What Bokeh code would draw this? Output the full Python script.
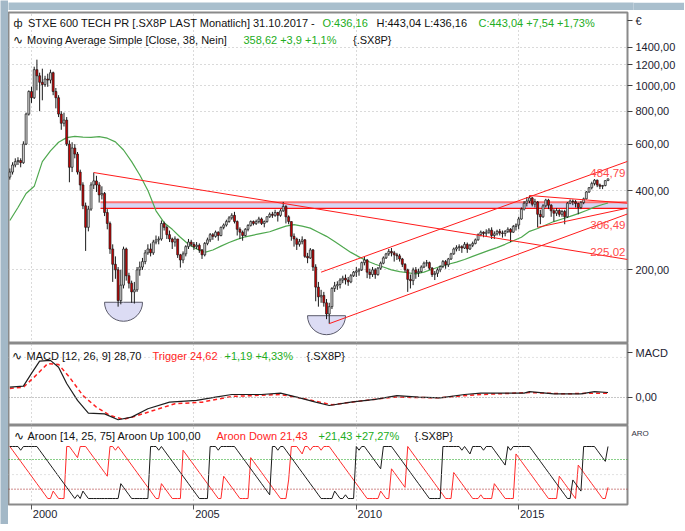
import numpy as np
from bokeh.plotting import figure
from bokeh.models import Range1d, FixedTicker, Label, Span, ColumnDataSource, LinearAxis
from bokeh.layouts import column, row
from bokeh.embed import file_html
from bokeh.resources import INLINE

# ---------------- data (monthly, month index 0 = Jan 2000; first bar May 1999) ----------------
first_month = -8
first_open = 450.0

close_1999 = [470, 500, 515, 520, 510, 600, 780, 950]
high_1999 = [485, 512, 530, 535, 530, 615, 790, 960]
low_1999 = [440, 460, 490, 500, 490, 505, 595, 770]
close_2000 = [900, 1150, 1090, 1030, 1010, 1060, 1050, 1120, 950, 900, 780, 720]
high_2000 = [990, 1180, 1255, 1120, 1160, 1090, 1110, 1150, 1130, 980, 920, 800]
low_2000 = [860, 890, 960, 800, 880, 990, 990, 1020, 920, 820, 760, 680]
close_2001 = [740, 600, 490, 580, 550, 470, 420, 350, 290, 340, 420, 435]
high_2001 = [790, 760, 620, 610, 600, 560, 480, 430, 360, 350, 430, 468]
low_2001 = [700, 590, 430, 470, 530, 460, 400, 340, 236, 280, 335, 405]
close_2002 = [420, 385, 390, 330, 300, 240, 210, 200, 153, 175, 240, 190]
high_2002 = [455, 430, 415, 395, 340, 305, 250, 225, 205, 200, 245, 243]
low_2002 = [395, 360, 370, 320, 285, 230, 180, 185, 145, 148, 170, 182]
close_2003 = [178, 165, 168, 200, 205, 215, 232, 240, 232, 255, 260, 262]
high_2003 = [195, 182, 180, 205, 215, 222, 238, 250, 252, 260, 270, 268]
low_2003 = [170, 150, 149, 165, 190, 200, 210, 228, 225, 228, 250, 250]
close_2004 = [300, 290, 272, 262, 255, 262, 228, 218, 230, 245, 255, 250]
high_2004 = [308, 305, 295, 282, 265, 268, 262, 230, 235, 248, 262, 260]
low_2004 = [258, 282, 262, 255, 240, 245, 222, 204, 212, 225, 240, 245]
close_2005 = [245, 248, 238, 228, 252, 260, 272, 268, 278, 270, 290, 296]
high_2005 = [255, 255, 252, 240, 255, 265, 276, 276, 282, 280, 292, 300]
low_2005 = [238, 240, 232, 220, 225, 248, 255, 260, 265, 258, 268, 285]
close_2006 = [305, 315, 322, 305, 285, 278, 270, 285, 295, 305, 300, 305]
high_2006 = [310, 320, 328, 332, 308, 290, 282, 288, 298, 308, 308, 310]
low_2006 = [292, 302, 310, 300, 270, 262, 258, 268, 280, 292, 295, 296]
close_2007 = [312, 300, 305, 318, 325, 322, 330, 322, 335, 348, 318, 305]
high_2007 = [318, 316, 308, 320, 330, 332, 338, 332, 340, 362, 352, 322]
low_2007 = [300, 296, 290, 302, 315, 315, 318, 305, 318, 332, 300, 298]
close_2008 = [268, 262, 250, 256, 260, 225, 222, 238, 205, 172, 158, 160]
high_2008 = [305, 275, 265, 262, 268, 262, 232, 242, 240, 210, 180, 168]
low_2008 = [258, 245, 238, 245, 250, 222, 212, 220, 198, 152, 145, 150]
close_2009 = [150, 136, 145, 170, 174, 176, 183, 186, 183, 180, 190, 196]
high_2009 = [165, 155, 150, 172, 180, 181, 186, 190, 192, 188, 193, 198]
low_2009 = [145, 130, 125, 142, 165, 168, 170, 178, 176, 174, 178, 188]
close_2010 = [198, 200, 213, 218, 196, 192, 200, 192, 203, 212, 222, 230]
high_2010 = [205, 203, 215, 224, 220, 202, 205, 203, 205, 215, 225, 232]
low_2010 = [188, 190, 198, 208, 186, 185, 188, 185, 190, 200, 210, 220]
close_2011 = [235, 232, 228, 226, 220, 210, 200, 184, 182, 200, 195, 197]
high_2011 = [240, 242, 236, 232, 230, 222, 212, 202, 192, 204, 205, 202]
low_2011 = [226, 225, 215, 218, 215, 205, 196, 165, 170, 175, 185, 188]
close_2012 = [205, 212, 213, 203, 192, 194, 200, 206, 215, 209, 220, 230]
high_2012 = [208, 215, 218, 215, 205, 198, 203, 208, 218, 218, 222, 232]
low_2012 = [195, 203, 206, 200, 188, 183, 188, 196, 203, 202, 205, 218]
close_2013 = [240, 243, 245, 242, 250, 240, 248, 252, 260, 272, 278, 275]
high_2013 = [243, 248, 250, 248, 255, 254, 251, 256, 263, 275, 282, 280]
low_2013 = [228, 235, 236, 232, 240, 232, 238, 244, 250, 258, 268, 266]
close_2014 = [278, 283, 270, 274, 280, 276, 275, 280, 285, 278, 292, 296]
high_2014 = [285, 288, 290, 280, 284, 286, 282, 283, 290, 288, 296, 300]
low_2014 = [268, 274, 262, 262, 270, 270, 265, 268, 276, 255, 276, 282]
close_2015 = [312, 340, 358, 365, 375, 355, 362, 325, 318, 350, 368, 352]
high_2015 = [318, 345, 365, 378, 383, 378, 372, 365, 338, 355, 372, 372]
low_2015 = [285, 310, 336, 348, 358, 348, 345, 290, 298, 315, 345, 340]
close_2016 = [335, 328, 336, 325, 333, 318, 358, 365, 363, 357, 345, 360]
high_2016 = [355, 340, 343, 340, 338, 338, 362, 370, 370, 368, 360, 365]
low_2016 = [318, 305, 320, 318, 318, 298, 315, 355, 352, 345, 325, 340]
close_2017 = [372, 395, 410, 425, 438, 420, 415, 418, 436.16, 443.04]
high_2017 = [376, 398, 412, 432, 442, 440, 425, 420, 438, 443.04]
low_2017 = [355, 370, 392, 404, 418, 412, 405, 405, 415, 436.16]

years = list(range(1999, 2018))
close = sum([globals()[f"close_{y}"] for y in years], [])
high = sum([globals()[f"high_{y}"] for y in years], [])
low = sum([globals()[f"low_{y}"] for y in years], [])
opens = [first_open] + close[:-1]
months = list(range(first_month, first_month + len(close)))

# Moving average (38)
ma_m = [-8, -5, -2, 1, 4, 7, 10, 13, 16, 19, 22, 25, 28, 31, 34, 37, 40, 43, 46, 49, 52, 55, 58, 61, 64,
        67, 70, 73, 76, 79, 82, 85, 88, 91, 94, 97, 100, 103, 106, 109, 112, 115, 118, 121, 124, 127, 130,
        133, 136, 139, 142, 145, 148, 151, 154, 157, 160, 163, 166, 169, 172, 175, 178, 181, 184, 187, 190,
        193, 196, 199, 202, 205, 208, 211, 213]
ma_v = [308, 345, 390, 415, 515, 566, 610, 635, 642, 638, 636, 641, 632, 612, 570, 515, 458, 400, 335, 302,
        285, 266, 250, 240, 233, 238, 246, 254, 261, 267, 271, 275, 279, 286, 293, 297, 293, 288, 278, 268,
        256, 244, 233, 224, 216, 210, 205, 200, 197, 195, 193, 196, 201, 206, 210, 214, 219, 225, 231, 237,
        243, 250, 258, 266, 280, 287, 296, 305, 312, 319, 327, 336, 346, 354, 358.62]

# MACD (12, 26, 9) and trigger
macd_m = [-8, -3, 0, 3, 7, 10, 13, 17, 21, 27, 32, 37, 43, 51, 61, 68, 74, 85, 92, 98, 105, 110, 118, 127,
          135, 143, 151, 160, 166, 182, 184, 193, 203, 208, 213]
macd_v = [59, 65, 138, 209, 213, 174, 80, -17, -90, -94, -128, -113, -65, -27, -17, 2, 17, 17, 25, 2, -27,
          -46, -27, -11, 11, 2, -2, 17, 25, 25, 34, 21, 21, 34, 28.70]
trig_m = [-8, -3, 1, 6, 10, 14, 19, 24, 29, 34, 38, 45, 53, 63, 74, 92, 101, 111, 121, 134, 150, 166, 184,
          197, 208, 213]
trig_v = [52, 59, 117, 195, 190, 117, 11, -56, -103, -126, -109, -75, -36, -27, 6, 17, -8, -42, -21, 2, -2,
          17, 28, 21, 25, 24.62]

# drawing objects (dates as month index, values in EUR)
X0, X1 = -8.5, 220.2
trend_x0 = [23, 107, 110, 184, 187]
trend_y0 = [468, 196, 125, 383, 290]
trend_x1 = [X1, X1, X1, X1, X1]
trend_y1 = [219, 516, 326, 358, 343]
band_left, band_bottom, band_top = 25.5, 342, 361
bowl_m = [34, 109]
bowl_p = [150.7, 134]
level_vals = [484.79, 306.49, 225.02]
level_texts = ["484,79", "306,49", "225,02"]
level_base = ["top", "top", "bottom"]

year_ticks = [0, 60, 120, 180]
year_labels = ["2000", "2005", "2010", "2015"]
price_ticks = [200, 400, 600, 800, 1000, 1200, 1400]

# ---------------- indicator: Aroon(14) from highs/lows ----------------
def aroon(vals, n, up):
    out = []
    for i in range(len(vals)):
        w = vals[max(0, i - n): i + 1]
        best = max(w) if up else min(w)
        idx = len(w) - 1 - w[::-1].index(best)
        since = len(w) - 1 - idx
        out.append(100.0 * (n - since) / n)
    return out

aroon_up = aroon(high, 14, True)
aroon_dn = aroon(low, 14, False)

# ---------------- styling ----------------
FONT = "Liberation Sans"
BLACK = "#111111"
GREEN = "#22ad22"
RED = "#ff2424"
AXCOL = "#1c1c30"
FW = 619
P_LO, P_HI = 105.1, 1895.0
M_LO, M_HI = -161.0, 310.0
A_LO, A_HI = -11.5, 140.4
EUR_POS = 1767.0      # "€" unit mark near the top of the price scale
MACD_POS = 258.0      # "MACD" mark near the top of the MACD scale
ARO_POS = 125.0       # "ARO" mark near the top of the Aroon scale
xr = Range1d(X0, X1)


def make_fig(y_range, fh, top, bottom, **kw):
    p = figure(x_range=xr, y_range=y_range, frame_width=FW, frame_height=fh,
               output_backend="svg", toolbar_location=None,
               min_border_left=0, min_border_right=50, min_border_top=top,
               min_border_bottom=bottom, **kw)
    p.outline_line_color = "#8a8a8a"
    p.outline_line_width = 2
    p.background_fill_color = "white"
    p.border_fill_color = "white"
    p.xgrid.ticker = FixedTicker(ticks=year_ticks)
    p.xgrid.grid_line_color = "#b4b4b4"
    p.xgrid.grid_line_dash = "1 3"
    p.ygrid.visible = False
    return p


def style_axis(ax, tick_out=5, size="11px", standoff=3):
    ax.axis_line_color = None
    ax.major_tick_in = 0
    ax.major_tick_out = tick_out
    ax.major_tick_line_color = "#404040" if tick_out else None
    ax.minor_tick_line_color = None
    ax.major_label_text_font = FONT
    ax.major_label_text_font_size = size
    ax.major_label_text_color = AXCOL
    ax.major_label_standoff = standoff


def label(p, yref, x_px, y_px, text, color, size="11px", align="left", baseline="middle", xref=X0):
    p.add_layout(Label(x=xref, y=yref, x_offset=x_px, y_offset=-y_px, text=text,
                       text_color=color, text_font=FONT, text_font_size=size,
                       text_align=align, text_baseline=baseline))

# ---------------- price panel ----------------
p1 = make_fig(Range1d(P_LO, P_HI), 331, 2, 0, y_axis_type="log",
              y_axis_location="right", x_axis_location=None)
p1.yaxis.ticker = FixedTicker(ticks=price_ticks + [EUR_POS])
ov = {t: f"{t},00" for t in price_ticks}
ov[EUR_POS] = "€"
p1.yaxis.major_label_overrides = ov
style_axis(p1.yaxis[0])
p1.ygrid.visible = True
p1.ygrid.ticker = FixedTicker(ticks=price_ticks)
p1.ygrid.grid_line_color = "#b4b4b4"
p1.ygrid.grid_line_dash = "1 3"

p1.quad(left=[band_left], right=[X1], bottom=[band_bottom], top=[band_top],
        fill_color="#d6d6f4", line_color=None)
p1.segment(x0=[band_left], y0=[band_top], x1=[X1], y1=[band_top], line_color="#ff7272", line_width=1.8)
p1.segment(x0=[band_left], y0=[band_bottom], x1=[X1], y1=[band_bottom], line_color="#ff1010", line_width=1.3)

p1.wedge(x=bowl_m, y=bowl_p, radius=19, radius_units="screen", start_angle=np.pi,
         end_angle=2 * np.pi, fill_color="#dcdcf4", line_color="#5a5a6a", line_width=1)

p1.line(ma_m, ma_v, line_color="#4fa84f", line_width=1.2)

src = ColumnDataSource(dict(
    m=months, h=high, l=low,
    top=[max(o, c) for o, c in zip(opens, close)],
    bot=[min(o, c) for o, c in zip(opens, close)],
    fill=["#d6d6d6" if c >= o else "#d00000" for o, c in zip(opens, close)],
))
p1.segment(x0="m", y0="l", x1="m", y1="h", source=src, line_color="#1a1a1a", line_width=1)
p1.vbar(x="m", width=0.72, top="top", bottom="bot", fill_color="fill",
        line_color="#1a1a1a", line_width=0.7, source=src)

p1.segment(x0=trend_x0, y0=trend_y0, x1=trend_x1, y1=trend_y1, line_color="#ff1a1a", line_width=1)

for v, t, b in zip(level_vals, level_texts, level_base):
    p1.add_layout(Label(x=X1, y=v, x_offset=-2, text=t, text_color="#ff4a4a",
                        text_font=FONT, text_font_size="11.5px", text_align="right",
                        text_baseline=b))

# header lines
label(p1, P_HI, 5, 10, "ф", BLACK, size="11px")
label(p1, P_HI, 19.5, 10, "STXE 600 TECH PR [.SX8P LAST Monatlich] 31.10.2017 -", BLACK)
label(p1, P_HI, 314, 10, "O:436,16", GREEN)
label(p1, P_HI, 368, 10, "H:443,04 L:436,16", BLACK)
label(p1, P_HI, 470, 10, "C:443,04 +7,54 +1,73%", GREEN)
label(p1, P_HI, 4, 27, "∿", BLACK, size="12px")
label(p1, P_HI, 18.6, 27, "Moving Average Simple [Close, 38, Nein]", BLACK)
label(p1, P_HI, 235, 27, "358,62 +3,9 +1,1%", GREEN)
label(p1, P_HI, 344.5, 27, "{.SX8P}", BLACK)

# ---------------- MACD panel ----------------
p2 = make_fig(Range1d(M_LO, M_HI), 82, 0, 0, y_axis_location="right", x_axis_location=None)
p2.yaxis.ticker = FixedTicker(ticks=[0, MACD_POS])
p2.yaxis.major_label_overrides = {0: "0,00", MACD_POS: "MACD"}
style_axis(p2.yaxis[0])
p2.add_layout(Span(location=0, dimension="width", line_color="#8c8c8c", line_dash="1 2", line_width=1))
p2.add_layout(Span(location=230, dimension="width", line_color="#c4c4c4", line_dash="1 3", line_width=1))
p2.line(trig_m, trig_v, line_color="#ff2020", line_width=1.5, line_dash="4 3")
p2.line(macd_m, macd_v, line_color="#1e1e1e", line_width=1.2)

label(p2, M_HI, 3, 12, "∿", BLACK, size="12px")
label(p2, M_HI, 18, 12, "MACD [12, 26, 9] 28,70", BLACK)
label(p2, M_HI, 144, 12, "Trigger 24,62", RED)
label(p2, M_HI, 216, 12, "+1,19 +4,33%", GREEN)
label(p2, M_HI, 298, 12, "{.SX8P}", BLACK)

# ---------------- Aroon panel ----------------
p3 = make_fig(Range1d(A_LO, A_HI), 79, 0, 19, y_axis_location="right", x_axis_location="below")
p3.yaxis.ticker = FixedTicker(ticks=[ARO_POS])
p3.yaxis.major_label_overrides = {ARO_POS: "ARO"}
style_axis(p3.yaxis[0], tick_out=0, size="8px", standoff=4)
p3.yaxis.major_label_text_color = "#333344"

ax = p3.xaxis[0]
ax.ticker = FixedTicker(ticks=year_ticks)
ax.major_label_overrides = {t: "" for t in year_ticks}
ax.major_label_text_font_size = "1px"
ax.major_label_standoff = 0
ax.axis_line_color = None
ax.major_tick_in = 0
ax.major_tick_out = 5
ax.major_tick_line_color = "#555555"
ax.minor_tick_line_color = None

# year labels sit just right of their tick marks: a second axis carries them
lab_ticks = [t + 5 for t in year_ticks]
ax2 = LinearAxis(ticker=FixedTicker(ticks=lab_ticks),
                 major_label_overrides={t: s for t, s in zip(lab_ticks, year_labels)})
style_axis(ax2, tick_out=0, size="11px", standoff=0)
p3.add_layout(ax2, "below")

p3.add_layout(Span(location=46, dimension="width", line_color="#c4c4c4", line_dash="1 3", line_width=1))
p3.add_layout(Span(location=75, dimension="width", line_color="#10a010", line_dash="1 2", line_width=1))
p3.add_layout(Span(location=18, dimension="width", line_color="#a01818", line_dash="1 2", line_width=1))
p3.line(months, aroon_dn, line_color="#ff2a2a", line_width=1)
p3.line(months, aroon_up, line_color="#1a1a1a", line_width=1)

label(p3, A_HI, 5, 10, "∿", BLACK, size="12px")
label(p3, A_HI, 19, 10, "Aroon [14, 25, 75] Aroon Up 100,00", BLACK)
label(p3, A_HI, 208, 10, "Aroon Down 21,43", RED)
label(p3, A_HI, 310, 10, "+21,43 +27,27%", GREEN)
label(p3, A_HI, 406, 10, "{.SX8P}", BLACK)


# ---------------- window chrome seen in the screenshot ----------------
def chrome(w, h, color):
    f = figure(width=w, height=h, toolbar_location=None, output_backend="svg", min_border=0,
               x_axis_location=None, y_axis_location=None)
    f.outline_line_color = None
    f.background_fill_color = color
    f.border_fill_color = color
    f.xgrid.visible = False
    f.ygrid.visible = False
    return f


top_band = chrome(676, 10, "#a9bfcd")
left_bar = chrome(8, 524, "#a3b8c7")

layout = row(left_bar, column(top_band, p1, p2, p3, spacing=0), spacing=0)
open("out.html", "w").write(file_html(layout, INLINE))
